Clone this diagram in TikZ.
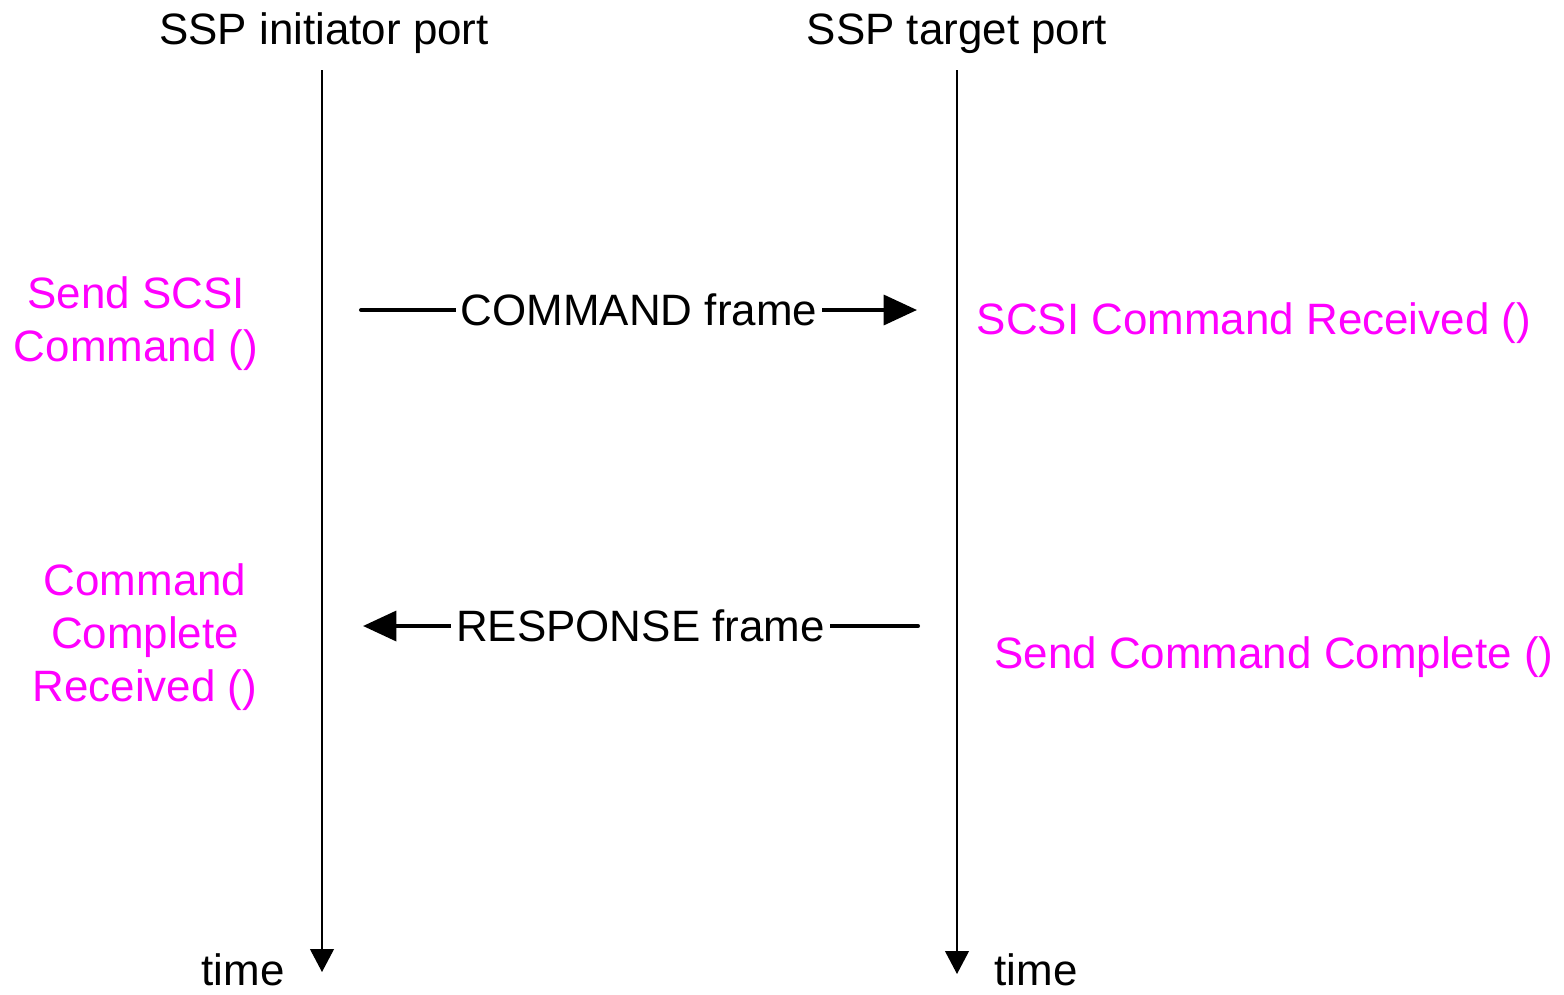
\documentclass[tikz,border=0pt]{standalone}
\usepackage{fontspec}
\setmainfont{Liberation Sans}
\usepackage{xcolor}
\definecolor{sspmagenta}{RGB}{255, 0, 255}
\usetikzlibrary{arrows.meta}

\begin{document}
\begin{tikzpicture}[x=0.02cm, y=-0.02cm,
    lbl/.style={font=\fontsize{25}{30}\selectfont, inner sep=0pt, anchor=base},
    proc/.style={lbl, text=sspmagenta, align=center},
    lifeline/.style={line width=0.8pt, -{Triangle[length=13pt, width=13.5pt]}},
    frameline/.style={line width=2.3pt, line cap=round, -{Triangle[length=19pt, width=17pt]}},
    framelbl/.style={font=\fontsize{25}{30}\selectfont, fill=white, inner xsep=3pt, inner ysep=1pt}]

\useasboundingbox (0,0) rectangle (1564,994);

% === Puertos ===
\node[lbl] (initiator) at (324,44) {SSP initiator port};
\node[lbl] (target) at (957,44) {SSP target port};

% === Lineas de tiempo ===
\coordinate (initTop) at (322,70);
\coordinate (initEnd) at (322,972);
\coordinate (targTop) at (957,70);
\coordinate (targEnd) at (957,974);
\draw[lifeline] (initTop) -- (initEnd);
\draw[lifeline] (targTop) -- (targEnd);

\node[lbl] (initTime) at (243,985) {time};
\node[lbl] (targTime) at (1036,985) {time};

% === Tramas ===
\coordinate (cmdFrom) at (361,310);
\coordinate (cmdTo) at (917,310);
\draw[frameline] (cmdFrom) -- node[framelbl] (cmdLbl) {COMMAND frame} (cmdTo);

\coordinate (rspFrom) at (918,626);
\coordinate (rspTo) at (363,626);
\draw[frameline] (rspFrom) -- node[framelbl] (rspLbl) {RESPONSE frame} (rspTo);

% === Procedimientos ===
\node[proc] (sendCmd) at (136,361) {Send SCSI\\Command ()};
\node[proc] (cmdDone) at (145,701) {Command\\Complete\\Received ()};
\node[proc] (cmdRecv) at (1254,334) {SCSI Command Received ()};
\node[proc] (sendDone) at (1274,668) {Send Command Complete ()};

\end{tikzpicture}
\end{document}
